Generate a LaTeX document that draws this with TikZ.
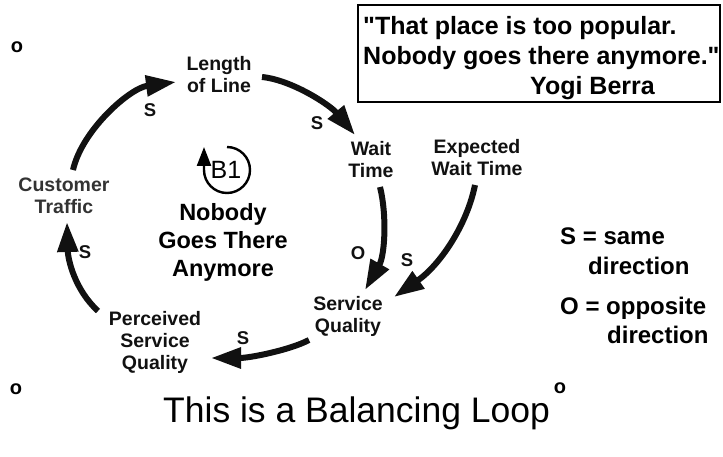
\documentclass[tikz,border=0pt]{standalone}
\usepackage{fontspec}
\setmainfont{Liberation Sans}
% a second face without the TeX quote mapping, so that " stays straight
\newfontfamily\quoteface{Liberation Sans}
\usetikzlibrary{arrows.meta}
\definecolor{ink}{HTML}{111111}
\definecolor{greytext}{HTML}{333333}
\begin{document}
\begin{tikzpicture}[x=1pt,y=-1pt,
  var/.style={font=\bfseries\fontsize{19.5}{22}\selectfont, align=center, inner sep=0pt, text=ink},
  sign/.style={font=\bfseries\fontsize{18.5}{20}\selectfont, inner sep=0pt, text=ink},
  link/.style={line width=6pt, draw=ink, -{Triangle[length=30pt,width=20pt]}},
  quote/.style={font=\quoteface\bfseries\fontsize{25}{30}\selectfont, inner sep=0pt, anchor=base west},
  legend/.style={font=\bfseries\fontsize{24}{28}\selectfont, inner sep=0pt, anchor=base west},
  marker/.style={font=\bfseries\fontsize{20}{20}\selectfont, inner sep=0pt}]
\useasboundingbox (0,0) rectangle (723,457);

% quotation box
\draw[line width=1.3pt] (358,5) rectangle (720,102);
\node[quote] (q1) at (363,35) {"That place is too popular.};
\node[quote] (q2) at (363,65) {Nobody goes there anymore."};
\node[quote] (q3) at (530,95) {Yogi Berra};

% corner markers
\node[marker] (m1) at (17,47) {o};
\node[marker] (m2) at (16,389) {o};
\node[marker] (m3) at (560,388) {o};

% loop variables
\node[var] (len)  at (219,75)  {Length\\of Line};
\node[var] (wait) at (371,160) {Wait\\Time};
\node[var] (exp)  at (477,158) {Expected\\Wait Time};
\node[var, text=greytext] (cust) at (64,196) {Customer\\Traffic};
\node[var] (serv) at (348,316) {Service\\Quality};
\node[var] (perc) at (155,342) {Perceived\\Service\\Quality};

% loop name
\node[font=\bfseries\fontsize{23.5}{28}\selectfont, align=center, inner sep=0pt] (name) at (223,242) {Nobody\\Goes There\\Anymore};

% balancing loop marker
\node[font=\fontsize{25}{26}\selectfont, inner sep=0pt] (b1) at (226,170) {B1};
\draw[line width=2.4pt, -{Triangle[length=19pt,width=14pt]}]
  ([shift={(1,-23)}]b1.center) arc[start angle=90, end angle=-180, radius=23pt] -- ++(0,-23);

% causal links
\draw[link] ([shift={(9,-26)}]cust.center) .. controls (82,130) and (130,88) .. ([shift={(-43,7)}]len.center);
\draw[link] ([shift={(43,2)}]len.center) .. controls (292,80) and (330,105) .. ([shift={(-16,-25)}]wait.center);
\draw[link] ([shift={(9,27)}]wait.center) .. controls (387,215) and (385,255) .. ([shift={(17,-26)}]serv.center);
\draw[link] ([shift={(-2,27)}]exp.center) .. controls (467,225) and (440,265) .. ([shift={(46,-19)}]serv.center);
\draw[link] ([shift={(-39,24)}]serv.center) .. controls (290,350) and (250,358) .. ([shift={(56,16)}]perc.center);
\draw[link] ([shift={(-57,-31)}]perc.center) .. controls (75,290) and (68,260) .. ([shift={(3,26)}]cust.center);

% link polarities
\node[sign] (s1) at (150,110) {S};
\node[sign] (s2) at (317,123) {S};
\node[sign] (o3) at (358,253) {O};
\node[sign] (s4) at (407,260) {S};
\node[sign] (s5) at (243,338) {S};
\node[sign] (s6) at (85,252)  {S};

% legend
\node[legend] (l1) at (560,245) {S = same};
\node[legend] (l2) at (588,274) {direction};
\node[legend] (l3) at (560,314) {O = opposite};
\node[legend] (l4) at (607,343) {direction};

% caption
\node[font=\fontsize{35.5}{40}\selectfont, inner sep=0pt, anchor=base west] (cap) at (163,422) {This is a Balancing Loop};
\end{tikzpicture}
\end{document}
